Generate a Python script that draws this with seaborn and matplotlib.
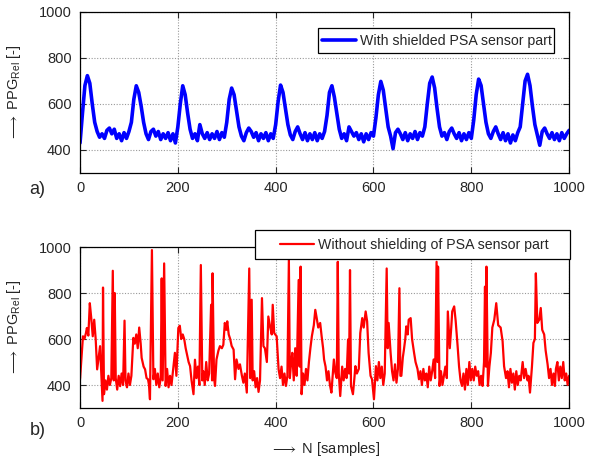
import numpy as np
import pandas as pd
import matplotlib
matplotlib.use('Agg')
import matplotlib.pyplot as plt
from matplotlib.patches import Rectangle
import seaborn as sns

# a) with shielded PSA sensor part, every 5th sample
top_n = np.arange(0, 1001, 5)
top_ppg = [430, 560, 680, 723, 690, 600, 520, 480, 455, 470,
           450, 485, 495, 470, 490, 450, 470, 440, 475, 450,
           480, 520, 620, 679, 650, 590, 520, 470, 445, 480,
           490, 460, 480, 445, 470, 450, 475, 440, 470, 430,
           500, 600, 679, 640, 560, 490, 450, 470, 440, 510,
           470, 450, 475, 445, 470, 450, 480, 445, 475, 455,
           520, 620, 669, 640, 570, 500, 460, 440, 475, 495,
           480, 455, 475, 440, 470, 450, 475, 440, 470, 450,
           510, 610, 682, 650, 580, 510, 465, 445, 480, 500,
           470, 445, 475, 440, 470, 445, 475, 440, 470, 450,
           480, 550, 650, 679, 630, 560, 490, 450, 470, 440,
           500, 480, 460, 475, 445, 470, 435, 470, 445, 475,
           460, 540, 640, 698, 660, 580, 500, 460, 405, 475,
           490, 470, 445, 475, 440, 470, 450, 480, 445, 475,
           460, 500, 600, 690, 717, 670, 580, 500, 460, 475,
           445, 480, 495, 470, 450, 475, 440, 470, 445, 475,
           450, 530, 640, 708, 680, 600, 520, 470, 450, 480,
           500, 470, 445, 475, 440, 470, 430, 465, 440, 475,
           500, 600, 700, 729, 680, 590, 510, 465, 420, 480,
           495, 470, 450, 475, 445, 470, 440, 475, 450, 470,
           485]

# b) without shielding of PSA sensor part
bot_n = [0, 3, 6, 9, 12, 14, 17, 20, 23, 26, 29, 32, 35, 38, 41, 44, 46, 47, 49, 52,
         55, 58, 61, 64, 67, 69, 71, 73, 76, 79, 82, 85, 88, 91, 93, 96, 99, 102, 105, 109,
         112, 115, 118, 121, 124, 126, 130, 133, 136, 139, 141, 143, 147, 150, 153, 156, 159, 162, 165, 167,
         169, 172, 175, 178, 181, 184, 187, 190, 194, 197, 201, 204, 207, 210, 213, 216, 218, 222, 225, 228,
         232, 235, 238, 241, 244, 247, 250, 252, 255, 258, 261, 264, 268, 270, 271, 274, 276, 279, 283, 286,
         290, 293, 296, 299, 301, 304, 307, 310, 314, 317, 320, 324, 327, 331, 334, 337, 341, 346, 348, 351,
         353, 356, 359, 362, 365, 368, 372, 375, 378, 382, 385, 389, 392, 394, 397, 402, 406, 409, 412, 415,
         418, 421, 424, 427, 429, 431, 434, 437, 440, 443, 447, 449, 451, 453, 456, 459, 462, 465, 468, 471,
         474, 478, 481, 484, 487, 491, 494, 497, 499, 502, 505, 508, 511, 514, 517, 519, 522, 525, 527, 529,
         532, 536, 539, 542, 545, 548, 550, 552, 554, 558, 561, 563, 566, 570, 573, 577, 580, 584, 587, 590,
         594, 597, 601, 605, 608, 611, 614, 617, 620, 623, 627, 629, 631, 635, 638, 641, 644, 647, 650, 653,
         655, 657, 660, 662, 665, 667, 670, 672, 676, 679, 683, 686, 690, 693, 696, 699, 702, 705, 708, 711,
         714, 717, 720, 723, 726, 729, 731, 732, 735, 738, 741, 744, 747, 750, 752, 756, 759, 761, 765, 768,
         772, 775, 778, 781, 784, 787, 790, 793, 796, 799, 802, 805, 808, 811, 814, 817, 820, 823, 826, 828,
         830, 831, 834, 837, 840, 843, 847, 851, 855, 860, 864, 867, 871, 874, 877, 880, 883, 886, 889, 892,
         895, 898, 901, 905, 908, 911, 915, 917, 920, 924, 927, 930, 932, 935, 939, 942, 945, 949, 952, 956,
         959, 962, 965, 968, 971, 973, 976, 979, 982, 985, 988, 991, 994, 997, 1000]
bot_ppg = [425, 520, 612, 600, 625, 648, 615, 756, 690, 612, 684, 600, 468, 520, 569, 425, 331, 824, 360, 420,
           380, 440, 400, 430, 897, 420, 800, 430, 380, 440, 395, 450, 400, 680, 420, 390, 450, 400, 440, 605,
           580, 620, 560, 650, 580, 518, 480, 468, 430, 425, 400, 338, 987, 425, 470, 400, 450, 390, 430, 864,
           420, 929, 396, 470, 390, 440, 400, 460, 540, 440, 648, 658, 600, 620, 600, 560, 540, 500, 482, 420,
           360, 510, 430, 480, 400, 922, 420, 460, 400, 500, 420, 450, 749, 420, 886, 430, 396, 511, 550, 569,
           560, 575, 670, 640, 677, 620, 600, 570, 554, 425, 511, 470, 490, 440, 410, 450, 367, 907, 430, 771,
           420, 460, 390, 430, 370, 420, 778, 569, 560, 500, 698, 650, 620, 749, 626, 612, 468, 430, 480, 400,
           450, 396, 440, 944, 430, 482, 540, 420, 560, 440, 857, 480, 915, 360, 450, 400, 470, 420, 500, 560,
           612, 660, 727, 690, 650, 670, 612, 560, 511, 480, 420, 460, 400, 367, 450, 511, 453, 430, 936, 453,
           352, 480, 420, 470, 430, 598, 450, 900, 396, 360, 430, 482, 450, 470, 626, 691, 650, 720, 677, 540,
           440, 425, 338, 482, 420, 500, 430, 480, 400, 450, 907, 560, 670, 540, 460, 420, 490, 410, 470, 821,
           440, 440, 520, 550, 600, 655, 620, 684, 691, 598, 540, 500, 470, 425, 460, 400, 470, 420, 450, 390,
           480, 420, 460, 511, 430, 936, 500, 915, 396, 460, 400, 440, 480, 430, 720, 560, 650, 720, 742, 680,
           570, 480, 420, 396, 450, 380, 470, 400, 500, 420, 470, 420, 480, 440, 460, 400, 440, 396, 500, 828,
           480, 915, 396, 480, 540, 650, 684, 756, 660, 650, 590, 482, 430, 460, 390, 470, 410, 450, 380, 460,
           400, 440, 420, 500, 430, 470, 420, 440, 367, 480, 583, 600, 886, 670, 684, 735, 640, 620, 550, 490,
           430, 470, 400, 450, 396, 470, 500, 420, 480, 430, 500, 420, 450, 400, 440]

top_df = pd.DataFrame({'N': top_n, 'PPG': top_ppg})
bot_df = pd.DataFrame({'N': bot_n, 'PPG': bot_ppg})

sns.set_style('ticks')
plt.rcParams['font.family'] = ['Liberation Sans', 'DejaVu Sans']
plt.rcParams['mathtext.fontset'] = 'custom'
plt.rcParams['mathtext.rm'] = 'Liberation Sans'
plt.rcParams['mathtext.it'] = 'Liberation Sans:italic'

fig = plt.figure(figsize=(5.95, 4.61), dpi=100)
ax1 = fig.add_axes([0.1345, 0.625, 0.822, 0.349])
ax2 = fig.add_axes([0.1345, 0.115, 0.822, 0.349])

sns.lineplot(data=top_df, x='N', y='PPG', ax=ax1, color='#0000ff', linewidth=2.6,
             estimator=None, sort=False, label='With shielded PSA sensor part')
sns.lineplot(data=bot_df, x='N', y='PPG', ax=ax2, color='#ff0000', linewidth=1.6,
             estimator=None, sort=False, label='Without shielding of PSA sensor part')

ylab = r'$\longrightarrow$ PPG$_{\mathrm{Rel}}$ [-]'
for ax in (ax1, ax2):
    ax.set_xlim(0, 1000)
    ax.set_ylim(300, 1000)
    ax.set_xticks([0, 200, 400, 600, 800, 1000])
    ax.set_yticks([400, 600, 800, 1000])
    ax.grid(True, linestyle=(0, (1, 1.5)), color='#999999', linewidth=0.8)
    ax.tick_params(direction='in', top=True, right=True, length=4, labelsize=10.5, pad=6)
    for s in ax.spines.values():
        s.set_linewidth(0.9)
        s.set_color('black')
    ax.set_ylabel(ylab, fontsize=10.5)
    ax.yaxis.set_label_coords(-0.116, 0.5)
    ax.set_xlabel('')
    ax.get_legend().remove()

# legends with MATLAB-like boxes
legend_boxes = [(318, 28, 554, 53), (255, 230, 570, 259)]
handle_starts = [(322, 40.5), (280, 244.5)]
for ax, box, hs in zip((ax1, ax2), legend_boxes, handle_starts):
    x0, y0, x1, y1 = box
    rect = Rectangle((x0 / 595, 1 - y1 / 461), (x1 - x0) / 595, (y1 - y0) / 461,
                     transform=fig.transFigure, facecolor='white', edgecolor='black',
                     linewidth=0.9, zorder=5)
    fig.add_artist(rect)
    h, l = ax.get_legend_handles_labels()
    leg = fig.legend(h, l, loc='center left', bbox_to_anchor=(hs[0] / 595, 1 - hs[1] / 461),
                     fontsize=10.2, frameon=False, handlelength=2.4, handletextpad=0.3,
                     borderpad=0, borderaxespad=0)
    leg.set_zorder(6)

ax2.set_xlabel(r'$\longrightarrow$ N [samples]', fontsize=10.5)
ax2.xaxis.set_label_coords(0.5, -0.2)
fig.text(0.05, 0.588, 'a)', fontsize=13, ha='left', va='center')
fig.text(0.05, 0.067, 'b)', fontsize=13, ha='left', va='center')

fig.savefig('out.png', dpi=100)
